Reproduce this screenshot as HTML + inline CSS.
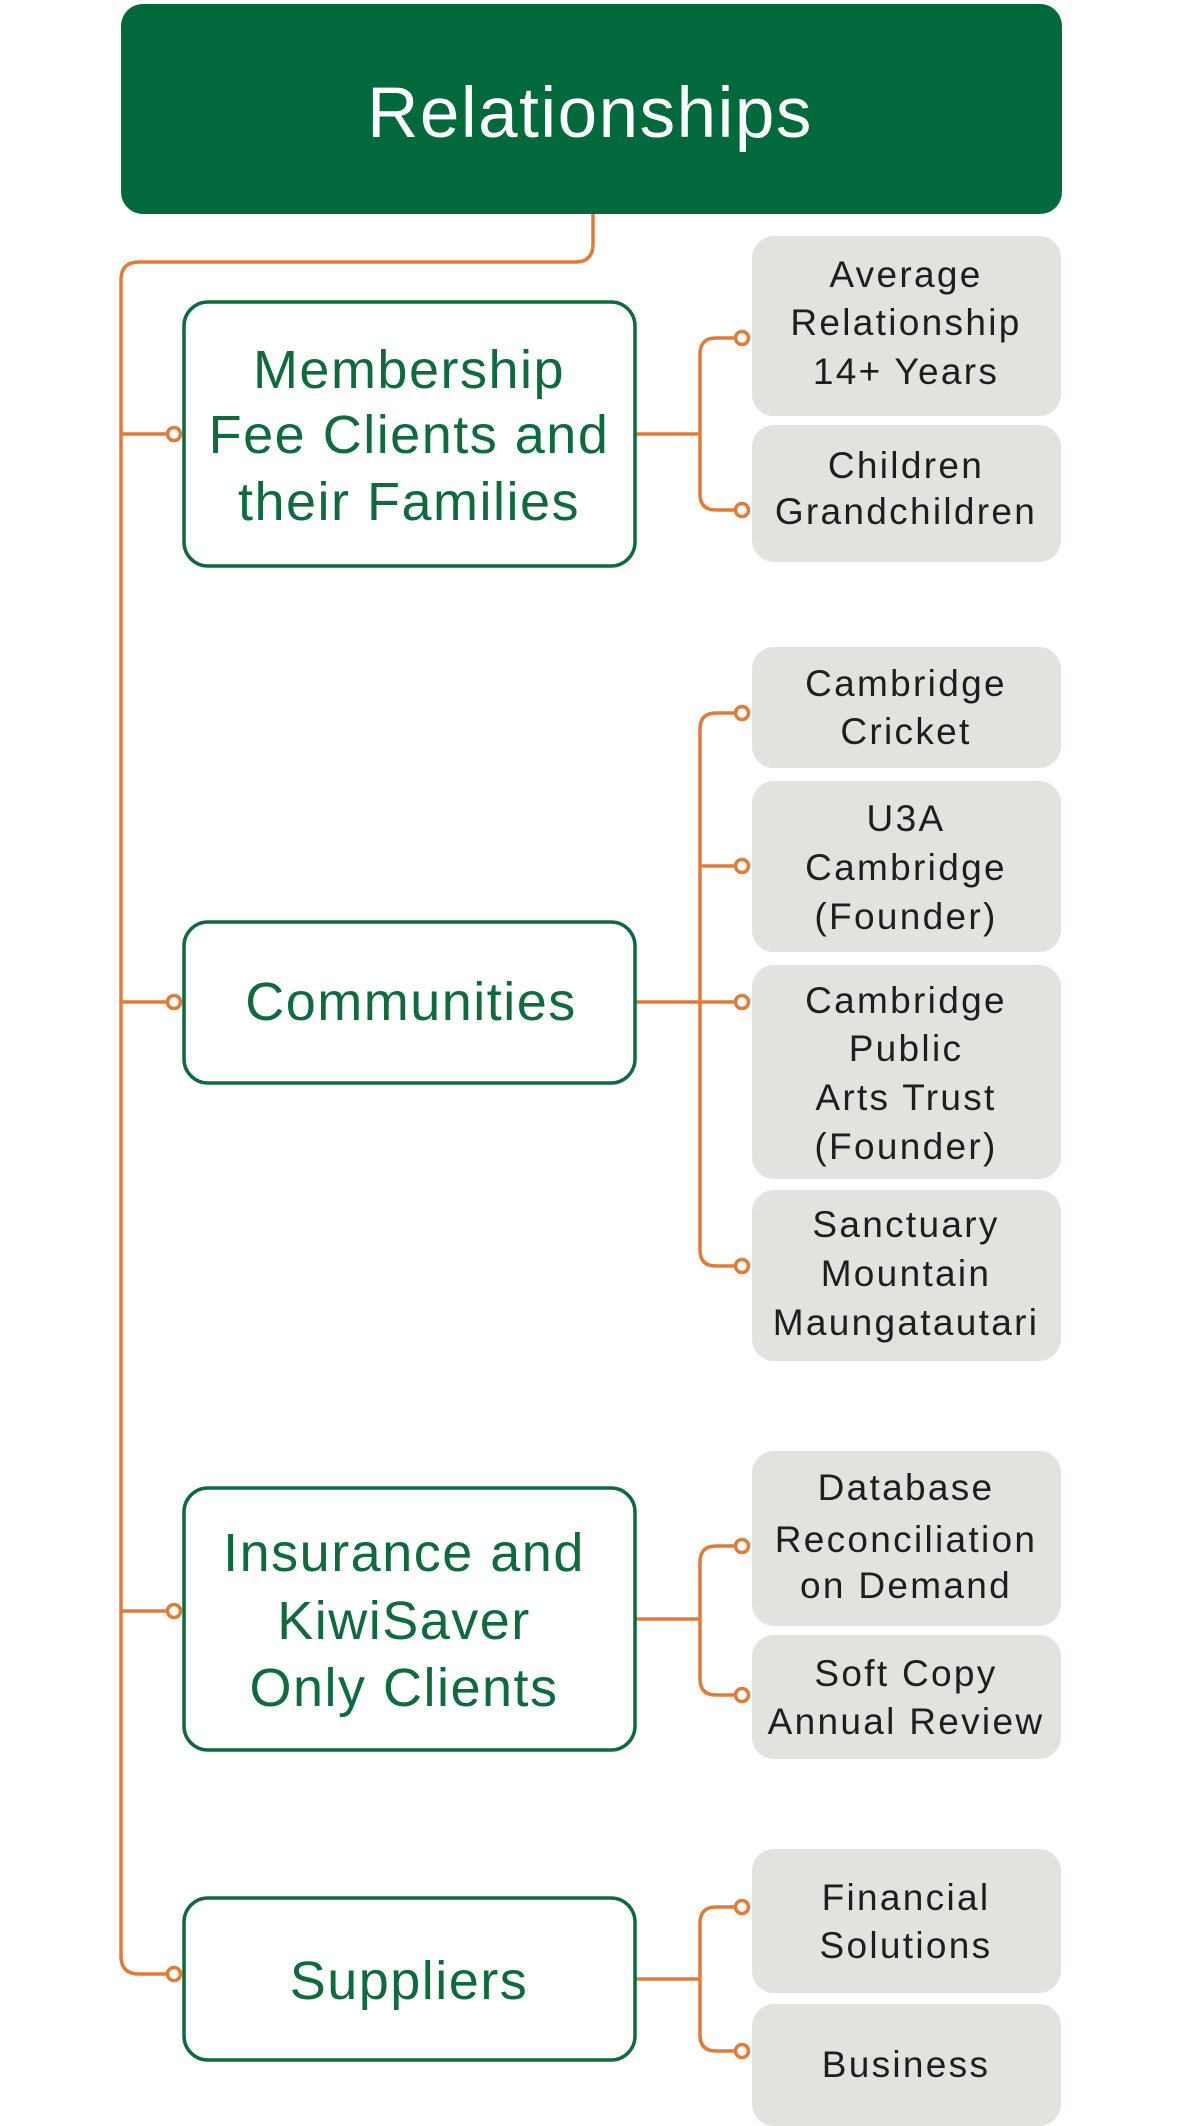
<!DOCTYPE html>
<html><head><meta charset="utf-8"><style>
html,body{margin:0;padding:0;background:#fff;}
svg{display:block;}
.g{font-family:"Liberation Sans",sans-serif;font-size:54px;letter-spacing:1.5px;fill:#0f6a3e;text-anchor:middle;}
.k{font-family:"Liberation Sans",sans-serif;font-size:37px;letter-spacing:2.3px;fill:#1e1e1e;text-anchor:middle;}
.o{fill:none;stroke:#e07b39;stroke-width:3.5;}
.d{fill:#fff;stroke:#e07b39;stroke-width:3.5;}
.b{fill:#fff;stroke:#0f6a3e;stroke-width:3.5;}
.y{fill:#e1e3de;}
</style></head><body>
<svg width="1181" height="2126" viewBox="0 0 1181 2126" xmlns="http://www.w3.org/2000/svg">
<rect x="121" y="4" width="941" height="210" rx="22" fill="#01693b"/>
<text x="590" y="137" font-family="Liberation Sans,sans-serif" font-size="71" letter-spacing="1.5" fill="#fff" text-anchor="middle">Relationships</text>

<path class="o" d="M593,214 V244 Q593,262 575,262 H139 Q121,262 121,280 V1956 Q121,1974 139,1974 H168"/>
<path class="o" d="M121,434 H168 M121,1002 H168 M121,1611 H168"/>

<path class="o" d="M636,434 H700 M736,338 H716 Q700,338 700,354 V494 Q700,510 716,510 H736"/>
<path class="o" d="M636,1002 H736 M736,713 H716 Q700,713 700,729 V1250 Q700,1266 716,1266 H736 M700,866 H736"/>
<path class="o" d="M636,1619 H700 M736,1546 H716 Q700,1546 700,1562 V1679 Q700,1695 716,1695 H736"/>
<path class="o" d="M636,1979 H700 M736,1907 H716 Q700,1907 700,1923 V2035 Q700,2051 716,2051 H736"/>

<rect class="b" x="184" y="302" width="451" height="264" rx="24"/>
<rect class="b" x="184" y="922" width="451" height="161" rx="24"/>
<rect class="b" x="184" y="1488" width="451" height="262" rx="24"/>
<rect class="b" x="184" y="1898" width="451" height="162" rx="24"/>

<g transform="translate(-5,0)">
<rect class="y" x="757" y="236" width="309" height="180" rx="22"/>
<rect class="y" x="757" y="425" width="309" height="137" rx="22"/>
<rect class="y" x="757" y="647" width="309" height="121" rx="22"/>
<rect class="y" x="757" y="781" width="309" height="171" rx="22"/>
<rect class="y" x="757" y="965" width="309" height="214" rx="22"/>
<rect class="y" x="757" y="1190" width="309" height="171" rx="22"/>
<rect class="y" x="757" y="1451" width="309" height="175" rx="22"/>
<rect class="y" x="757" y="1635" width="309" height="124" rx="22"/>
<rect class="y" x="757" y="1849" width="309" height="144" rx="22"/>
<rect class="y" x="757" y="2004" width="309" height="122" rx="22"/>
</g>

<g>
<circle class="d" cx="174" cy="434" r="6.5"/><circle class="d" cx="174" cy="1002" r="6.5"/>
<circle class="d" cx="174" cy="1611" r="6.5"/><circle class="d" cx="174" cy="1974" r="6.5"/>
<circle class="d" cx="742" cy="338" r="6.5"/><circle class="d" cx="742" cy="510" r="6.5"/>
<circle class="d" cx="742" cy="713" r="6.5"/><circle class="d" cx="742" cy="866" r="6.5"/>
<circle class="d" cx="742" cy="1002" r="6.5"/><circle class="d" cx="742" cy="1266" r="6.5"/>
<circle class="d" cx="742" cy="1546" r="6.5"/><circle class="d" cx="742" cy="1695" r="6.5"/>
<circle class="d" cx="742" cy="1907" r="6.5"/><circle class="d" cx="742" cy="2051" r="6.5"/>
</g>

<text class="g" x="409" y="388">Membership</text>
<text class="g" x="409" y="453">Fee Clients and</text>
<text class="g" x="409" y="520">their Families</text>
<text class="g" x="411" y="1020">Communities</text>
<text class="g" x="404" y="1571">Insurance and</text>
<text class="g" x="404" y="1639">KiwiSaver</text>
<text class="g" x="404" y="1706">Only Clients</text>
<text class="g" x="409" y="1999">Suppliers</text>

<text class="k" x="906" y="287">Average</text>
<text class="k" x="906" y="335">Relationship</text>
<text class="k" x="906" y="384">14+ Years</text>
<text class="k" x="906" y="478">Children</text>
<text class="k" x="906" y="524">Grandchildren</text>
<text class="k" x="906" y="696">Cambridge</text>
<text class="k" x="906" y="744">Cricket</text>
<text class="k" x="906" y="831">U3A</text>
<text class="k" x="906" y="880">Cambridge</text>
<text class="k" x="906" y="929">(Founder)</text>
<text class="k" x="906" y="1013">Cambridge</text>
<text class="k" x="906" y="1061">Public</text>
<text class="k" x="906" y="1110">Arts Trust</text>
<text class="k" x="906" y="1159">(Founder)</text>
<text class="k" x="906" y="1237">Sanctuary</text>
<text class="k" x="906" y="1286">Mountain</text>
<text class="k" x="906" y="1335">Maungatautari</text>
<text class="k" x="906" y="1500">Database</text>
<text class="k" x="906" y="1552">Reconciliation</text>
<text class="k" x="906" y="1598">on Demand</text>
<text class="k" x="906" y="1686">Soft Copy</text>
<text class="k" x="906" y="1734">Annual Review</text>
<text class="k" x="906" y="1910">Financial</text>
<text class="k" x="906" y="1958">Solutions</text>
<text class="k" x="906" y="2077">Business</text>
</svg>
</body></html>
